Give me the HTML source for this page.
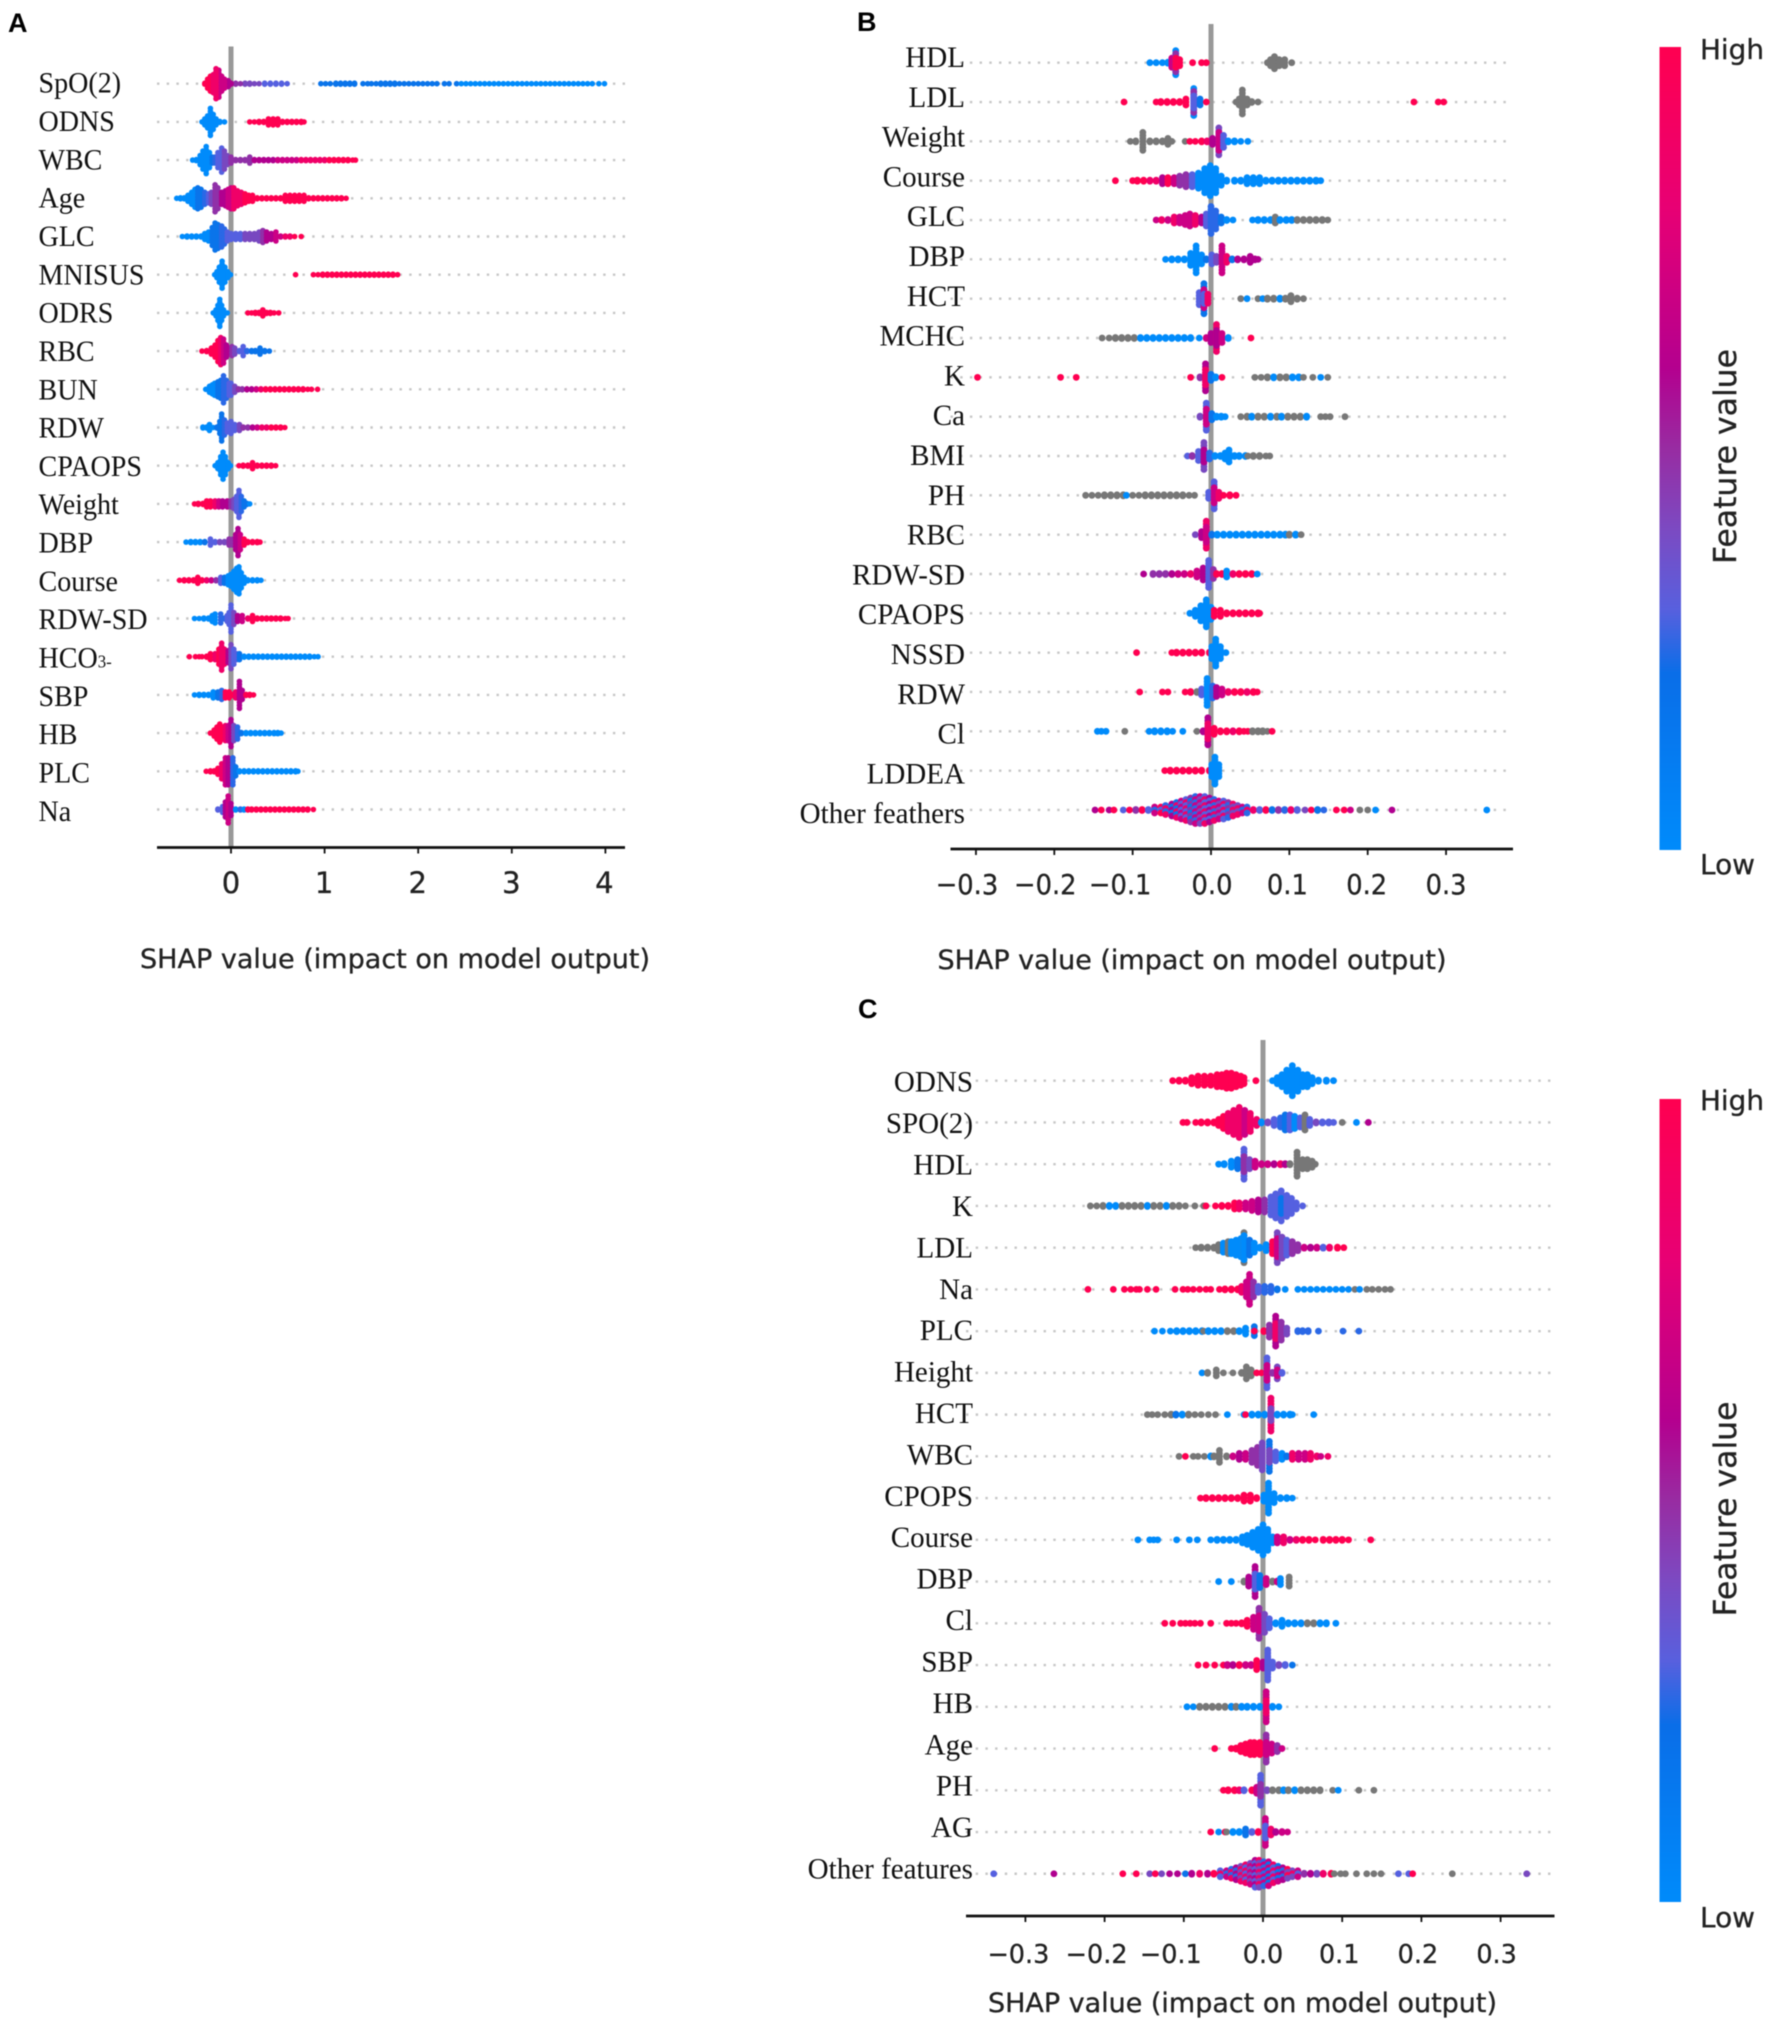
<!DOCTYPE html>
<html lang="en">
<head>
<meta charset="utf-8">
<title>SHAP summary plots</title>
<style>
html,body{margin:0;padding:0;background:#fff}
#figure{display:block;width:1772px;height:2025px;filter:blur(.55px)}
.lab{font-family:"Liberation Serif",serif;fill:#111}
.sans{font-family:"DejaVu Sans",sans-serif;fill:#222;stroke:#222;stroke-width:.3}
.letter{font-family:"Liberation Sans",sans-serif;font-weight:700;font-size:27px;fill:#000}
</style>
</head>
<body>
<svg id="figure" xmlns="http://www.w3.org/2000/svg" width="1772" height="2025" viewBox="0 0 1772 2025">
<defs>
<linearGradient id="barGrad" x1="0" y1="0" x2="0" y2="1">
<stop offset="0" stop-color="#ff0051"/>
<stop offset=".2" stop-color="#e80074"/>
<stop offset=".4" stop-color="#b4008f"/>
<stop offset=".5" stop-color="#982ca2"/>
<stop offset=".6" stop-color="#7c4ac2"/>
<stop offset=".7" stop-color="#5860de"/>
<stop offset=".78" stop-color="#0a6ee8"/>
<stop offset="1" stop-color="#008bfb"/>
</linearGradient>
</defs>
<rect x="0" y="0" width="1772" height="2025" fill="#fff"/>
<text class="letter" x="8" y="32">A</text>
<text class="letter" x="857" y="31">B</text>
<text class="letter" x="858" y="1018">C</text>

<g>
<rect x="1659.5" y="47" width="21.5" height="803" fill="url(#barGrad)"/>
<text class="sans" x="1700" y="59" font-size="27.5" textLength="64" lengthAdjust="spacingAndGlyphs">High</text>
<text class="sans" x="1700" y="874" font-size="27.5" textLength="55" lengthAdjust="spacingAndGlyphs">Low</text>
<text class="sans" transform="translate(1736,456.5) rotate(-90)" text-anchor="middle" font-size="31" textLength="215" lengthAdjust="spacingAndGlyphs">Feature value</text>
</g>
<g>
<rect x="1659.5" y="1099" width="21.5" height="803" fill="url(#barGrad)"/>
<text class="sans" x="1700" y="1110" font-size="27.5" textLength="64" lengthAdjust="spacingAndGlyphs">High</text>
<text class="sans" x="1700" y="1927" font-size="27.5" textLength="55" lengthAdjust="spacingAndGlyphs">Low</text>
<text class="sans" transform="translate(1736,1509) rotate(-90)" text-anchor="middle" font-size="31" textLength="215" lengthAdjust="spacingAndGlyphs">Feature value</text>
</g>
<g id="panelA"></g>
<g id="panelB"></g>
<g id="panelC"></g>
</svg>
<script>
/* Every point group is [SHAP value, samples stacked at that value, feature-value decile 0-9 (-1 = missing), optional second decile for alternating samples] */
const panelAFeatures = ["SpO(2)","ODNS","WBC","Age","GLC","MNISUS","ODRS","RBC","BUN","RDW","CPAOPS","Weight","DBP","Course","RDW-SD","HCO3-","SBP","HB","PLC","Na"];
const panelATicks = [0,1,2,3,4];
const panelATickLabels = ["0","1","2","3","4"];
const panelAPoints = [
[[.6,1,3],[.54,2,3],[.48,2,3],[.42,2,3],[.36,2,3],[.3,1,4],[.25,1,4],[.2,2,4],[.15,2,4],[.1,1,5],[.05,2,5],[0,2,6],[-.03,3,6],[-.28,2,9],[-.25,4,9],[-.22,6,9],[-.19,7,8],[-.07,4,7],[-.1,6,7],[-.13,10,7],[-.16,11,8],[.96,1,1],[1.01,1,1],[1.06,1,1],[1.12,2,1],[1.17,2,1],[1.22,2,1],[1.27,2,1],[1.32,2,1],[1.41,1,1],[1.46,1,1],[1.5,1,1],[1.55,1,1],[1.6,2,1],[1.65,2,1],[1.7,2,1],[1.75,2,1],[1.8,1,1],[1.85,1,1],[1.9,1,1],[1.95,1,1],[2,1,1],[2.05,1,1],[2.1,1,1],[2.15,1,1],[2.2,1,1],[2.28,1,1],[2.33,1,1],[2.41,1,1],[2.46,1,0],[2.51,1,0],[2.56,1,0],[2.61,1,0],[2.66,1,0],[2.71,1,0],[2.76,1,0],[2.81,1,0],[2.86,1,0],[2.91,1,0],[2.96,1,0],[3.01,1,0],[3.06,1,0],[3.11,1,0],[3.16,1,0],[3.21,1,0],[3.26,1,0],[3.31,1,0],[3.36,1,0],[3.41,1,0],[3.46,1,0],[3.51,1,0],[3.56,1,0],[3.61,1,0],[3.66,1,0],[3.71,1,0],[3.76,1,0],[3.81,1,0],[3.86,1,0],[3.93,1,0],[3.99,1,0]],
[[-.31,1,0],[-.28,3,0],[-.25,5,0],[-.22,10,0],[-.19,6,0],[-.16,3,0],[-.12,2,0],[-.07,1,0],[.2,1,9],[.25,1,9],[.3,2,9],[.35,2,9],[.4,3,9],[.45,3,9],[.5,3,9],[.55,2,9],[.6,2,9],[.65,2,9],[.7,2,9],[.75,2,9],[.78,1,9]],
[[-.41,1,0],[-.37,2,0],[-.33,4,0],[-.3,7,0],[-.265,10,0],[-.23,6,0],[-.2,3,1],[-.17,3,2],[-.14,6,3],[-.1,9,3],[-.07,7,4],[-.04,4,4],[0,3,5],[.05,2,5],[.1,2,5],[.15,2,5],[.2,3,5],[.25,2,6],[.3,2,6],[.35,2,6],[.4,2,6],[.45,2,6],[.5,2,7],[.55,2,7],[.6,2,7],[.65,2,7],[.7,2,7],[.75,2,8],[.8,2,8],[.85,2,8],[.9,2,8],[.95,2,8],[1,2,8],[1.05,2,9],[1.1,2,9],[1.15,2,9],[1.2,2,9],[1.25,2,9],[1.3,1,9],[1.33,1,9]],
[[-.58,1,0],[-.54,2,0],[-.5,2,0],[-.46,3,0],[-.42,5,0],[-.385,7,0],[-.355,8,1],[-.32,7,1],[-.28,5,2],[-.24,4,3],[-.21,5,4],[-.17,10,5],[-.14,8,5],[-.1,5,6],[-.06,6,6],[-.03,7,7],[0,8,7],[.03,8,8],[.07,6,8],[.11,5,8],[.15,4,9],[.19,3,9],[.23,3,9],[.28,2,9],[.33,2,9],[.38,2,9],[.43,2,9],[.48,2,9],[.53,2,9],[.58,3,9],[.63,3,9],[.68,3,9],[.73,3,9],[.78,3,9],[.83,2,9],[.88,2,9],[.93,2,9],[.98,2,9],[1.03,2,9],[1.08,2,9],[1.13,2,9],[1.18,2,9],[1.23,1,9]],
[[-.52,1,0],[-.47,2,0],[-.42,2,0],[-.37,2,0],[-.32,2,0],[-.28,3,0],[-.24,4,0],[-.2,7,1],[-.17,10,1],[-.14,9,1],[-.1,8,2],[-.07,6,2],[-.04,4,3],[0,3,3],[.05,3,3],[.1,3,3],[.15,3,4],[.2,3,4],[.25,3,4],[.3,4,4],[.34,5,5],[.38,4,6],[.43,3,6],[.48,4,7],[.53,2,7],[.58,2,8],[.63,2,8],[.68,1,9],[.75,1,9]],
[[-.175,1,0],[-.15,3,0],[-.125,6,0],[-.095,10,0],[-.065,6,0],[-.035,3,0],[-.005,1,0],[.69,1,9],[.88,1,9],[.93,1,9],[.98,2,9],[1.03,2,9],[1.08,2,9],[1.13,2,9],[1.18,2,9],[1.23,2,9],[1.28,2,9],[1.33,2,9],[1.38,2,9],[1.43,2,9],[1.48,2,9],[1.53,2,9],[1.58,2,9],[1.63,2,9],[1.68,2,9],[1.73,2,9],[1.78,1,9]],
[[-.19,1,0],[-.16,3,0],[-.14,6,0],[-.12,10,0],[-.1,6,0],[-.08,3,0],[-.04,1,0],[.18,1,9],[.22,1,9],[.26,2,9],[.3,2,9],[.34,3,9],[.38,2,9],[.42,2,9],[.46,1,9],[.51,1,9]],
[[-.31,1,9],[-.26,2,9],[-.21,3,9],[-.17,5,9],[-.14,8,9],[-.11,10,8],[-.08,9,7],[-.05,5,6],[-.02,3,6],[.01,4,5],[.04,3,4],[.09,2,3],[.13,4,3],[.17,2,2],[.22,2,1],[.26,2,1],[.31,3,1],[.36,2,1],[.41,1,1]],
[[-.27,1,0],[-.23,3,0],[-.2,4,0],[-.175,5,0],[-.14,6,1],[-.11,7,1],[-.08,10,2],[-.05,7,2],[-.02,5,3],[0,5,3],[.04,3,4],[.08,2,5],[.12,2,5],[.17,2,6],[.22,2,6],[.27,2,7],[.32,2,8],[.37,2,9],[.42,2,9],[.47,2,9],[.52,2,9],[.57,2,9],[.62,2,9],[.67,2,9],[.72,2,9],[.77,2,9],[.82,1,9],[.86,1,9],[.925,1,9]],
[[-.3,2,0],[-.26,2,0],[-.23,3,0],[-.19,1,0],[-.15,2,1],[-.12,5,1],[-.1,10,1],[-.07,6,2],[-.04,4,3],[0,5,3],[.04,3,3],[.09,3,4],[.13,2,5],[.18,2,5],[.23,2,6],[.28,2,7],[.33,2,8],[.38,2,8],[.43,2,9],[.48,2,9],[.53,2,9],[.575,1,9]],
[[-.17,1,0],[-.14,3,0],[-.11,7,0],[-.085,10,0],[-.06,7,0],[-.03,3,0],[-.005,1,0],[.085,1,9],[.13,2,9],[.18,2,9],[.23,3,9],[.28,2,9],[.33,2,9],[.38,2,9],[.43,2,9],[.477,1,9]],
[[-.39,1,9],[-.35,2,9],[-.3,2,9],[-.26,3,9],[-.22,3,9],[-.17,3,8],[-.13,3,7],[-.09,3,6],[-.04,3,6],[0,3,5],[.03,4,4],[.06,6,3],[.085,10,3],[.11,6,2],[.14,3,1],[.17,2,1],[.2,1,0]],
[[-.48,1,0],[-.43,2,0],[-.38,2,0],[-.33,2,0],[-.28,2,1],[-.22,3,3],[-.17,2,3],[-.12,2,4],[-.07,2,4],[-.02,3,5],[.02,3,5],[.05,6,6],[.075,10,6],[.1,6,7],[.14,3,9],[.18,2,9],[.23,2,9],[.28,2,9],[.31,1,9]],
[[-.55,1,9],[-.5,2,9],[-.45,2,9],[-.4,2,9],[-.355,3,9],[-.31,2,9],[-.26,2,8],[-.21,2,7],[-.16,2,5],[-.11,3,3],[-.07,3,1],[-.03,4,0],[0,5,0],[.03,7,0],[.06,9,0],[.085,10,0],[.11,6,0],[.14,3,0],[.18,2,0],[.23,2,0],[.28,2,0],[.32,1,0]],
[[-.39,1,0],[-.34,1,0],[-.29,2,0],[-.24,2,0],[-.2,3,0],[-.17,4,0],[-.11,4,2],[-.07,2,2],[-.04,3,3],[-.02,5,3],[0,10,3],[.03,5,4],[.07,3,6],[.12,3,7],[.18,2,8],[.23,3,9],[.28,2,9],[.33,2,9],[.38,2,9],[.43,2,9],[.48,2,9],[.53,2,9],[.58,1,9],[.61,1,9]],
[[-.445,1,9],[-.38,1,9],[-.34,1,9],[-.31,1,9],[-.26,2,9],[-.22,3,9],[-.17,3,8],[-.13,6,9],[-.1,10,8],[-.07,6,8],[-.03,5,6],[0,9,4],[.03,6,3],[.06,3,3],[.09,3,1],[.14,2,0],[.19,2,0],[.24,2,0],[.29,2,0],[.34,2,0],[.39,2,0],[.44,2,0],[.49,2,0],[.54,2,0],[.59,2,0],[.64,2,0],[.69,2,0],[.74,2,0],[.79,2,0],[.84,2,0],[.89,1,0],[.93,1,0]],
[[-.39,1,0],[-.34,2,0],[-.29,2,0],[-.24,2,0],[-.19,3,0],[-.14,3,1],[-.1,4,2],[-.06,3,9],[-.02,3,9],[.02,2,9],[.05,3,8],[.09,10,6],[.12,4,6],[.16,2,9],[.2,2,9],[.24,1,9]],
[[-.22,1,9],[-.18,3,9],[-.15,5,9],[-.12,7,9],[-.09,5,9],[-.06,6,8],[-.03,6,7],[0,10,6],[.03,6,4],[.07,5,2],[.11,2,1],[.16,2,0],[.21,2,0],[.26,2,0],[.31,2,0],[.36,2,0],[.41,2,0],[.46,2,0],[.5,2,0],[.535,1,0]],
[[-.265,1,9],[-.22,2,9],[-.18,2,9],[-.14,3,9],[-.1,6,8],[-.06,10,7],[-.03,10,6],[.02,10,2],[.05,4,1],[.09,2,0],[.14,2,0],[.19,2,0],[.24,2,0],[.29,2,0],[.34,2,0],[.39,2,0],[.44,2,0],[.49,2,0],[.54,2,0],[.59,2,0],[.64,2,0],[.69,2,0],[.715,1,0]],
[[-.14,2,3],[-.09,3,3],[-.06,6,6],[-.03,10,7],[0,5,6],[.05,2,0],[.1,2,2],[.14,2,0],[.18,2,9],[.22,2,9],[.27,2,9],[.32,2,9],[.37,2,9],[.42,2,9],[.47,2,9],[.52,2,9],[.57,2,9],[.62,2,9],[.67,2,9],[.72,2,9],[.77,2,9],[.82,2,9],[.88,1,9]]
];

const panelBFeatures = ["HDL","LDL","Weight","Course","GLC","DBP","HCT","MCHC","K","Ca","BMI","PH","RBC","RDW-SD","CPAOPS","NSSD","RDW","Cl","LDDEA","Other feathers"];
const panelBTicks = [-.3,-.2,-.1,0,.1,.2,.3];
const panelBTickLabels = ["\u22120.3","\u22120.2","\u22120.1","0.0","0.1","0.2","0.3"];
const panelBPoints = [
[[-.078,1,0],[-.07,1,0],[-.062,1,0],[-.055,2,0],[-.05,4,7],[-.045,9,0],[-.045,7,5],[-.045,4,9],[-.04,3,9],[-.0235,1,9],[-.012,1,9],[-.006,1,9],[.072,1,-1],[.076,3,-1],[.081,5,-1],[.087,3,-1],[.094,3,-1],[.103,1,-1]],
[[-.111,1,9],[-.07,1,9],[-.064,2,9],[-.056,2,9],[-.048,2,9],[-.04,2,9],[-.032,3,9],[-.022,10,0],[-.022,8,5],[-.022,5,3],[-.014,3,1],[-.006,1,9],[.032,1,-1],[.036,3,-1],[.04,9,-1],[.046,3,-1],[.052,2,-1],[.06,1,-1],[.259,1,9],[.29,1,9],[.297,1,9]],
[[-.103,1,-1],[-.096,2,-1],[-.087,7,-1],[-.078,2,-1],[-.07,2,-1],[-.062,2,-1],[-.055,3,-1],[-.05,1,-1],[-.033,1,-1],[-.027,1,9],[-.02,1,9],[-.012,2,9],[-.005,2,8],[.002,3,6],[.01,10,4],[.01,7,7],[.016,5,3],[.022,2,0],[.03,2,0],[.038,1,0],[.047,1,0]],
[[-.122,1,9],[-.1,1,9],[-.094,2,9],[-.086,2,9],[-.078,2,8],[-.07,2,8],[-.062,3,6],[-.055,3,9],[-.047,3,7],[-.04,4,5],[-.032,5,5],[-.024,5,3],[-.016,6,0],[-.008,9,0],[-.001,11,0],[.006,9,0],[.013,4,0],[.02,2,0],[.03,2,0],[.038,2,0],[.046,3,0],[.054,3,0],[.062,3,0],[.07,2,0],[.078,2,0],[.086,2,0],[.094,2,0],[.102,2,0],[.11,2,0],[.118,2,0],[.126,2,0],[.134,2,0],[.14,1,0]],
[[-.07,1,7],[-.063,2,8],[-.055,2,7],[-.047,3,8],[-.04,3,7],[-.033,4,7],[-.027,5,7],[-.02,4,8],[-.012,3,6],[-.006,5,3],[0,10,2],[.006,7,2],[.013,3,1],[.02,2,0],[.028,1,0],[.053,1,0],[.06,2,0],[.068,2,0],[.076,2,0],[.082,3,-1],[.088,2,0],[.096,2,0],[.103,2,0],[.11,2,-1],[.118,2,-1],[.126,2,-1],[.134,2,-1],[.142,2,-1],[.149,1,-1]],
[[-.058,1,0],[-.05,2,0],[-.042,2,0],[-.034,2,0],[-.026,5,0],[-.019,10,0],[-.012,4,0],[-.006,2,1],[.001,4,3],[.007,3,4],[.014,10,7],[.02,3,8],[.027,2,1],[.034,2,6],[.042,2,6],[.05,3,6],[.056,2,6],[.06,1,6]],
[[-.015,5,3],[-.009,11,1],[-.009,7,7],[-.009,4,3],[-.004,4,8],[.038,1,-1],[.046,1,0],[.06,1,-1],[.066,1,0],[.072,2,-1],[.08,2,-1],[.088,2,0],[.095,2,-1],[.102,3,-1],[.11,2,-1],[.118,1,-1]],
[[-.139,1,-1],[-.13,1,-1],[-.122,2,-1],[-.114,2,-1],[-.106,2,-1],[-.098,2,-1],[-.09,2,0],[-.082,2,0],[-.074,2,0],[-.066,2,0],[-.058,2,0],[-.05,2,0],[-.042,2,0],[-.034,2,0],[-.026,2,0],[-.015,1,0],[-.006,2,7],[0,4,6],[.007,10,8],[.007,6,6],[.014,4,7],[.022,2,0],[.051,1,9]],
[[-.298,1,9],[-.192,1,9],[-.172,1,9],[-.026,1,9],[-.014,2,5],[-.007,10,6],[-.007,6,8],[0,3,1],[.006,2,0],[.014,1,9],[.056,1,-1],[.064,1,-1],[.072,2,-1],[.08,2,0],[.088,2,-1],[.096,2,-1],[.104,2,0],[.112,2,0],[.118,1,-1],[.13,1,-1],[.14,1,0],[.149,1,-1]],
[[-.014,2,4],[-.006,10,3],[-.006,6,7],[.001,3,1],[.007,2,0],[.013,2,0],[.018,1,0],[.038,1,-1],[.046,2,-1],[.052,2,0],[.06,2,-1],[.068,2,-1],[.076,2,0],[.084,2,-1],[.09,2,0],[.098,2,-1],[.106,2,-1],[.114,2,-1],[.122,2,0],[.14,1,-1],[.146,1,-1],[.152,1,-1],[.171,1,-1]],
[[-.03,1,3],[-.024,2,5],[-.016,4,3],[-.009,10,4],[-.009,5,6],[-.002,3,2],[.005,2,0],[.012,2,0],[.018,3,0],[.023,5,0],[.03,2,0],[.036,2,0],[.044,2,0],[.047,1,-1],[.054,2,-1],[.062,2,-1],[.07,1,-1],[.075,1,-1]],
[[-.16,1,-1],[-.152,1,-1],[-.144,1,-1],[-.136,2,-1],[-.128,2,-1],[-.12,2,-1],[-.112,2,-1],[-.108,1,0],[-.1,1,-1],[-.092,1,-1],[-.084,2,-1],[-.076,2,-1],[-.068,2,-1],[-.06,2,-1],[-.052,2,-1],[-.044,2,-1],[-.036,2,-1],[-.028,1,-1],[-.021,1,-1],[-.003,3,3],[.004,10,3],[.004,6,7],[.01,3,8],[.016,1,9],[.024,2,9],[.032,1,9]],
[[-.02,1,4],[-.012,3,6],[-.006,10,8],[-.006,6,7],[.001,2,1],[.008,2,0],[.016,2,0],[.024,2,0],[.032,2,0],[.04,2,0],[.048,2,0],[.056,2,0],[.064,2,0],[.072,2,0],[.08,2,0],[.088,2,0],[.095,2,0],[.1,2,-1],[.108,2,0],[.115,1,-1]],
[[-.086,1,6],[-.074,2,5],[-.066,2,5],[-.058,2,5],[-.05,2,6],[-.042,2,7],[-.034,2,7],[-.026,2,8],[-.018,3,7],[-.01,5,6],[-.003,10,3],[.003,4,5],[.007,2,9],[.014,2,9],[.02,3,0],[.028,2,8],[.036,2,9],[.044,2,9],[.052,2,9],[.059,1,0]],
[[-.027,1,0],[-.02,3,0],[-.013,6,0],[-.006,10,0],[0,5,0],[.004,3,9],[.012,3,9],[.02,2,9],[.028,2,9],[.036,2,9],[.044,2,9],[.052,2,9],[.06,2,9],[.062,1,9]],
[[-.095,1,9],[-.05,1,9],[-.044,2,9],[-.036,2,9],[-.028,2,9],[-.02,2,9],[-.012,2,9],[-.002,2,9],[.001,5,0],[.006,10,0],[.012,5,0],[.019,1,0]],
[[-.091,1,9],[-.062,1,9],[-.055,1,9],[-.033,1,9],[-.026,2,9],[-.018,2,-1],[-.012,3,3],[-.005,10,0],[.002,5,2],[.007,4,6],[.014,3,7],[.022,2,8],[.03,2,9],[.038,2,9],[.046,2,8],[.054,2,9],[.059,1,9]],
[[-.145,1,0],[-.14,1,0],[-.134,1,0],[-.11,1,-1],[-.079,1,0],[-.072,2,0],[-.064,2,0],[-.056,2,0],[-.049,1,0],[-.036,1,0],[-.018,1,-1],[-.01,2,6],[-.004,10,6],[-.004,6,8],[.004,3,9],[.012,2,9],[.02,2,9],[.028,2,8],[.036,2,9],[.042,1,9],[.047,1,9],[.053,2,-1],[.06,2,-1],[.066,2,-1],[.072,1,-1],[.078,1,9]],
[[-.059,1,9],[-.052,2,9],[-.044,2,9],[-.036,2,9],[-.028,2,9],[-.02,2,9],[-.012,2,9],[-.002,2,9],[.001,5,0],[.005,10,0],[.01,5,0]],
[[-.148,1,6],[-.14,1,9],[-.13,1,6],[-.124,1,9],[-.112,1,3],[-.104,1,9],[-.096,2,5],[-.088,2,9],[-.08,2,3],[-.072,3,7,2],[-.064,3,9,3],[-.058,4,2,8],[-.05,5,6,1],[-.044,6,1,8],[-.038,7,7,3],[-.032,8,3,8],[-.026,9,5,1],[-.02,10,2,7],[-.014,10,7,4],[-.008,10,3,8],[-.002,9,6,3],[.004,8,2,8],[.01,7,7,4],[.016,7,3,8],[.022,6,5,2],[.028,5,8,4],[.034,4,4,8],[.04,3,7,2],[.046,3,2,8],[.054,2,8],[.062,2,3],[.07,2,9],[.078,2,1],[.086,2,5],[.094,2,2],[.102,2,8],[.11,2,3],[.12,1,4],[.128,1,9],[.136,2,1],[.144,1,2],[.16,1,9],[.17,1,9],[.178,1,7],[.19,1,-1],[.2,1,-1],[.21,1,0],[.231,1,6],[.352,1,0]]
];

const panelCFeatures = ["ODNS","SPO(2)","HDL","K","LDL","Na","PLC","Height","HCT","WBC","CPOPS","Course","DBP","Cl","SBP","HB","Age","PH","AG","Other features"];
const panelCTicks = [-.3,-.2,-.1,0,.1,.2,.3];
const panelCTickLabels = ["\u22120.3","\u22120.2","\u22120.1","0.0","0.1","0.2","0.3"];
const panelCPoints = [
[[-.114,1,9],[-.106,2,9],[-.098,2,9],[-.09,3,9],[-.082,4,9],[-.074,4,9],[-.066,4,9],[-.058,5,9],[-.052,5,9],[-.046,6,9],[-.04,6,9],[-.034,5,9],[-.028,4,9],[-.024,3,9],[-.009,1,9],[.012,1,0],[.018,3,0],[.024,5,0],[.03,8,0],[.037,11,0],[.044,8,0],[.05,5,0],[.056,5,0],[.062,3,0],[.07,2,0],[.08,2,0],[.089,1,0]],
[[-.101,1,9],[-.096,1,9],[-.085,1,9],[-.078,2,9],[-.07,2,9],[-.062,2,9],[-.056,3,9],[-.05,5,9],[-.044,7,8],[-.037,9,8],[-.03,11,8],[-.023,9,7],[-.016,7,8],[-.008,3,8],[-.002,2,0],[.006,2,4],[.014,3,3],[.022,4,2],[.028,6,1],[.034,6,3],[.04,5,0],[.047,4,3],[.053,6,-1],[.059,3,3],[.067,2,4],[.075,2,3],[.083,2,3],[.089,1,3],[.1,1,-1],[.118,1,0],[.133,1,6]],
[[-.056,1,0],[-.049,2,0],[-.04,3,0],[-.032,4,1],[-.024,11,3],[-.024,6,5],[-.017,4,4],[-.01,3,7],[-.002,2,7],[.006,2,7],[.014,2,6],[.022,2,8],[.028,2,6],[.034,2,-1],[.043,9,-1],[.05,4,-1],[.056,4,-1],[.062,3,-1],[.066,1,-1]],
[[-.218,1,-1],[-.21,1,-1],[-.202,2,-1],[-.194,2,0],[-.186,2,0],[-.178,2,-1],[-.17,2,-1],[-.162,2,-1],[-.154,2,-1],[-.146,2,0],[-.138,2,-1],[-.13,2,-1],[-.122,2,0],[-.114,2,-1],[-.106,2,-1],[-.098,1,-1],[-.086,1,-1],[-.075,1,-1],[-.072,1,9],[-.06,1,9],[-.052,2,9],[-.044,2,9],[-.036,3,9],[-.03,3,8],[-.022,3,7],[-.014,4,7],[-.006,5,6],[.002,5,5],[.01,7,3],[.016,9,3],[.023,11,3],[.023,6,1],[.03,8,3],[.036,6,3],[.042,3,3],[.05,1,3]],
[[-.085,1,-1],[-.078,2,-1],[-.07,2,-1],[-.062,2,-1],[-.056,3,-1],[-.05,4,0],[-.044,5,-1],[-.04,5,0],[-.034,6,0],[-.028,7,0],[-.024,11,-1],[-.024,9,0],[-.017,6,1],[-.011,4,0],[-.004,2,0],[.004,3,0],[.012,5,9],[.018,11,4],[.018,7,7],[.024,8,4],[.03,6,3],[.037,5,5],[.044,3,5],[.052,2,7],[.06,2,6],[.068,2,7],[.076,2,3],[.084,2,8],[.094,2,9],[.102,1,9]],
[[-.221,1,9],[-.189,1,9],[-.175,1,9],[-.167,1,9],[-.16,1,9],[-.156,1,9],[-.146,1,9],[-.135,1,9],[-.111,1,9],[-.101,1,9],[-.095,1,9],[-.088,1,9],[-.08,1,9],[-.072,1,9],[-.066,1,9],[-.055,1,9],[-.048,2,9],[-.04,2,9],[-.032,2,9],[-.027,3,8],[-.021,6,7],[-.017,11,7],[-.012,6,5],[-.006,3,3],[.002,3,2],[.01,3,2],[.018,2,1],[.028,1,0],[.044,1,0],[.052,1,0],[.06,1,0],[.068,1,0],[.076,1,0],[.084,1,0],[.092,1,0],[.1,1,0],[.108,1,0],[.116,1,-1],[.122,1,0],[.131,1,-1],[.138,1,-1],[.146,1,-1],[.154,1,-1],[.161,1,-1]],
[[-.137,1,0],[-.127,1,0],[-.117,1,0],[-.109,2,0],[-.101,2,0],[-.093,2,0],[-.085,2,0],[-.077,2,0],[-.075,1,-1],[-.069,2,0],[-.061,2,0],[-.053,2,0],[-.045,2,-1],[-.037,2,-1],[-.03,2,0],[-.022,3,0],[-.011,4,1],[-.011,1,9],[.001,2,9],[.008,5,5],[.016,11,6],[.016,6,8],[.023,7,5],[.03,3,4],[.044,2,2],[.05,2,2],[.057,2,2],[.07,1,2],[.101,1,2],[.121,1,2]],
[[-.077,1,0],[-.07,2,-1],[-.059,3,-1],[-.05,1,-1],[-.038,1,-1],[-.027,2,-1],[-.021,5,-1],[-.015,3,-1],[-.008,1,9],[-.002,1,9],[.005,11,3],[.005,6,7],[.012,2,5],[.018,5,4],[.018,3,7],[.024,2,3]],
[[-.146,1,-1],[-.14,1,-1],[-.133,1,-1],[-.124,1,-1],[-.116,2,-1],[-.11,2,1],[-.102,2,0],[-.094,2,-1],[-.086,1,-1],[-.078,1,-1],[-.069,1,-1],[-.06,1,-1],[-.045,1,0],[-.024,1,0],[-.022,1,9],[-.014,2,0],[-.006,2,0],[.002,2,0],[.01,12,8],[.01,5,4],[.018,2,0],[.026,2,0],[.034,2,0],[.037,1,0],[.064,1,0]],
[[-.106,1,-1],[-.098,1,9],[-.088,1,-1],[-.082,1,-1],[-.074,1,-1],[-.066,2,0],[-.062,2,-1],[-.055,5,-1],[-.046,2,-1],[-.038,2,7],[-.03,3,6],[-.022,3,7],[-.014,5,5],[-.007,7,5],[-.001,10,4],[.008,11,1],[.008,5,4],[.016,4,3],[.024,3,0],[.03,2,1],[.037,3,8],[.045,3,7],[.053,3,7],[.06,3,8],[.068,2,8],[.073,1,7],[.082,1,8]],
[[-.079,1,9],[-.072,2,9],[-.064,2,9],[-.056,2,9],[-.048,2,9],[-.04,2,9],[-.032,2,9],[-.024,3,9],[-.016,3,9],[-.008,2,9],[.001,3,0],[.007,11,0],[.014,4,0],[.022,2,0],[.03,2,0],[.037,1,0]],
[[-.158,1,0],[-.143,1,0],[-.138,1,0],[-.133,1,0],[-.109,1,0],[-.093,1,0],[-.083,1,0],[-.066,1,0],[-.058,2,0],[-.05,2,0],[-.042,2,0],[-.034,2,0],[-.026,3,0],[-.02,4,0],[-.013,6,0],[-.006,8,0],[0,11,0],[.006,8,0],[.012,3,0],[.018,3,7],[.026,3,8],[.034,2,7],[.042,2,8],[.05,2,9],[.058,2,9],[.066,1,9],[.076,2,9],[.084,2,9],[.092,2,9],[.1,2,9],[.108,1,9],[.136,1,9]],
[[-.056,1,0],[-.04,1,0],[-.024,2,-1],[-.018,4,6],[-.01,11,6],[-.01,6,3],[-.004,5,1],[.004,3,7],[.012,2,-1],[.018,2,7],[.022,3,0],[.033,4,-1]],
[[-.124,1,9],[-.114,1,9],[-.104,1,9],[-.098,1,9],[-.092,1,9],[-.086,1,9],[-.079,1,9],[-.066,1,9],[-.046,1,9],[-.04,1,9],[-.034,1,9],[-.027,2,9],[-.02,3,9],[-.012,5,7],[-.005,11,5],[-.005,6,7],[.002,7,4],[.008,4,3],[.016,2,0],[.024,3,0],[.032,2,0],[.04,2,0],[.048,2,0],[.056,2,-1],[.064,2,-1],[.072,2,0],[.08,2,0],[.092,1,0]],
[[-.082,1,9],[-.072,1,9],[-.061,1,9],[-.05,1,9],[-.045,2,7],[-.038,2,6],[-.03,2,9],[-.022,2,7],[-.015,2,7],[-.008,4,9],[0,3,6],[.006,11,3],[.006,6,3],[.012,3,3],[.02,2,4],[.028,2,3],[.037,1,1]],
[[-.096,1,0],[-.088,1,0],[-.08,2,-1],[-.072,2,-1],[-.064,2,-1],[-.056,2,-1],[-.048,2,-1],[-.04,2,0],[-.034,2,-1],[-.027,2,0],[-.02,2,0],[-.012,2,0],[-.004,2,0],[.004,11,7],[.004,5,8],[.012,2,0],[.02,1,0]],
[[-.061,1,9],[-.04,1,9],[-.034,2,9],[-.028,3,9],[-.022,4,9],[-.016,5,9],[-.011,5,9],[-.004,5,9],[.004,10,5],[.004,5,7],[.011,4,7],[.018,3,5],[.024,1,7]],
[[-.05,1,9],[-.044,2,9],[-.036,2,9],[-.03,2,8],[-.024,2,3],[-.014,2,9],[-.008,3,7],[-.003,11,3],[-.003,5,5],[.005,2,4],[.012,2,-1],[.02,2,-1],[.026,2,0],[.032,2,-1],[.04,2,0],[.048,2,-1],[.056,2,-1],[.064,2,-1],[.072,2,-1],[.088,1,-1],[.095,1,0],[.121,1,-1],[.14,1,-1]],
[[-.066,1,9],[-.056,1,0],[-.048,1,9],[-.046,1,-1],[-.038,2,0],[-.03,2,0],[-.022,3,1],[-.014,2,3],[-.006,2,9],[.003,10,7],[.003,5,3],[.01,3,8],[.016,2,6],[.024,2,7],[.031,1,7]],
[[-.34,1,3],[-.264,1,6],[-.177,1,9],[-.16,1,9],[-.143,1,4],[-.136,1,9],[-.128,1,4],[-.118,1,6],[-.108,1,6],[-.098,1,1],[-.09,2,6],[-.08,2,8],[-.07,2,6],[-.062,2,9],[-.054,3,3,8],[-.046,3,7,2],[-.04,4,2,8],[-.034,5,6,2],[-.028,6,4,8],[-.022,7,8,3],[-.016,8,4,7],[-.01,10,6,3],[-.005,10,8,4],[.001,9,2,7],[.007,9,7,1],[.013,7,8,3],[.019,6,1,7],[.025,5,6,2],[.031,4,9,4],[.037,3,4,8],[.044,3,7,3],[.052,2,5],[.06,2,6],[.068,2,4],[.076,2,8],[.086,2,9],[.09,1,-1],[.098,1,-1],[.104,1,-1],[.118,1,-1],[.131,1,-1],[.14,1,-1],[.149,1,-1],[.171,1,3],[.184,1,3],[.189,1,9],[.239,1,-1],[.333,1,4]]
];

const toneColors = ["#008bfb","#0a74ea","#2a68e6","#5560e0","#7848c0","#9030a8","#b0008f","#cc0085","#f00068","#ff0051"];
const missingColor = "#777777";
const SVG_NS = "http://www.w3.org/2000/svg";

function toneToColor(tone) {
  if (tone < 0) return missingColor;
  return toneColors[Math.max(0, Math.min(9, Math.round(tone)))];
}

function drawPanel(cfg) {
  const root = document.getElementById(cfg.id);
  const xScale = function (v) { return cfg.zeroX + v * cfg.pxPerUnit; };
  const yRow = function (i) { return cfg.firstY + i * cfg.rowStep; };

  cfg.features.forEach(function (name, i) {
    const guide = document.createElementNS(SVG_NS, "line");
    guide.setAttribute("x1", cfg.axisX0);
    guide.setAttribute("x2", cfg.axisX1);
    guide.setAttribute("y1", yRow(i));
    guide.setAttribute("y2", yRow(i));
    guide.setAttribute("stroke", "#c6c6c6");
    guide.setAttribute("stroke-width", "2.4");
    guide.setAttribute("stroke-dasharray", "2.4 7.3");
    
    
    root.appendChild(guide);
  });

  const zero = document.createElementNS(SVG_NS, "line");
  zero.setAttribute("x1", xScale(0));
  zero.setAttribute("x2", xScale(0));
  zero.setAttribute("y1", cfg.zeroTop);
  zero.setAttribute("y2", cfg.axisY);
  zero.setAttribute("stroke", "#999999");
  zero.setAttribute("stroke-width", "5");
  
  
  root.appendChild(zero);

  cfg.features.forEach(function (name, i) {
    const label = document.createElementNS(SVG_NS, "text");
    label.setAttribute("class", "lab");
    label.setAttribute("transform", "translate(" + cfg.labelX + "," + (cfg.labelBase + i * cfg.labelStep) + ") scale(" + cfg.labelSx + ",1)");
    label.setAttribute("font-size", cfg.labelSize);
    label.setAttribute("text-anchor", cfg.labelAnchor);
    if (name === "HCO3-") {
      label.appendChild(document.createTextNode("HCO"));
      const small = document.createElementNS(SVG_NS, "tspan");
      small.setAttribute("font-size", "18");
      small.textContent = "3-";
      label.appendChild(small);
    } else {
      label.textContent = name;
    }
    
    
    root.appendChild(label);

    const row = document.createElementNS(SVG_NS, "g");
    
    
    root.appendChild(row);
    (cfg.points[i] || []).forEach(function (p) {
      const n = Math.max(1, Math.round(p[1]));
      const dy = n <= 2 ? 1 : 3;
      for (let k = 0; k < n; k++) {
        const dot = document.createElementNS(SVG_NS, "circle");
        dot.setAttribute("cx", xScale(p[0]));
        dot.setAttribute("cy", yRow(i) + (k - (n - 1) / 2) * dy);
        dot.setAttribute("r", cfg.dotR);
        dot.setAttribute("fill", toneToColor(p.length > 3 && k % 2 ? p[3] : p[2]));
        
        
        row.appendChild(dot);
      }
    });
  });

  const axis = document.createElementNS(SVG_NS, "line");
  axis.setAttribute("x1", cfg.axisX0);
  axis.setAttribute("x2", cfg.axisX1);
  axis.setAttribute("y1", cfg.axisY);
  axis.setAttribute("y2", cfg.axisY);
  axis.setAttribute("stroke", "#111");
  axis.setAttribute("stroke-width", "2.8");
  
  
  root.appendChild(axis);

  cfg.ticks.forEach(function (t, i) {
    const tick = document.createElementNS(SVG_NS, "line");
    tick.setAttribute("x1", xScale(t));
    tick.setAttribute("x2", xScale(t));
    tick.setAttribute("y1", cfg.axisY);
    tick.setAttribute("y2", cfg.axisY + 6);
    tick.setAttribute("stroke", "#111");
    tick.setAttribute("stroke-width", "1.8");
    
    
    root.appendChild(tick);

    const tl = document.createElementNS(SVG_NS, "text");
    tl.setAttribute("class", "sans");
    tl.setAttribute("transform", "translate(" + (xScale(t) + cfg.tickShift[i]) + "," + cfg.tickBase + ") scale(" + cfg.tickSx + ",1)");
    tl.setAttribute("font-size", cfg.tickSize);
    tl.setAttribute("text-anchor", "middle");
    tl.textContent = cfg.tickLabels[i];
    
    
    root.appendChild(tl);
  });

  const title = document.createElementNS(SVG_NS, "text");
  title.setAttribute("class", "sans");
  title.setAttribute("x", cfg.titleX);
  title.setAttribute("y", cfg.titleBase);
  title.setAttribute("font-size", "27");
  title.setAttribute("textLength", cfg.titleLen);
  title.setAttribute("lengthAdjust", "spacingAndGlyphs");
  title.textContent = "SHAP value (impact on model output)";
  
  
  root.appendChild(title);
}

drawPanel({id:"panelA",features:panelAFeatures,points:panelAPoints,ticks:panelATicks,tickLabels:panelATickLabels,
  zeroX:231,pxPerUnit:93.6,firstY:83.7,rowStep:38.2,axisX0:157,axisX1:625,axisY:847.5,zeroTop:46.5,
  labelX:38.5,labelAnchor:"start",labelSize:30,labelSx:.935,labelBase:92.7,labelStep:38.32,dotR:2.8,
  tickBase:893,tickSize:29,tickSx:1,tickShift:[0,-.5,-.5,-.5,-1],titleX:140,titleBase:968,titleLen:510});
drawPanel({id:"panelB",features:panelBFeatures,points:panelBPoints,ticks:panelBTicks,tickLabels:panelBTickLabels,
  zeroX:1211,pxPerUnit:783.5,firstY:62.7,rowStep:39.33,axisX0:950.5,axisX1:1513,axisY:849,zeroTop:24,
  labelX:965,labelAnchor:"end",labelSize:29.5,labelSx:.985,labelBase:67,labelStep:39.8,dotR:3.4,
  tickBase:894,tickSize:28,tickSx:.92,tickShift:[-9,-9,-12.5,1,-2,-1,0],titleX:937.5,titleBase:969,titleLen:509});
drawPanel({id:"panelC",features:panelCFeatures,points:panelCPoints,ticks:panelCTicks,tickLabels:panelCTickLabels,
  zeroX:1263,pxPerUnit:792,firstY:1080.7,rowStep:41.74,axisX0:966,axisX1:1554.5,axisY:1916,zeroTop:1040,
  labelX:973,labelAnchor:"end",labelSize:29.5,labelSx:.985,labelBase:1091.7,labelStep:41.41,dotR:3.4,
  tickBase:1963,tickSize:26,tickSx:.98,tickShift:[-7,-8,-13,0,-3,-3.5,-4],titleX:988,titleBase:2012,titleLen:509});
</script>
</body>
</html>
